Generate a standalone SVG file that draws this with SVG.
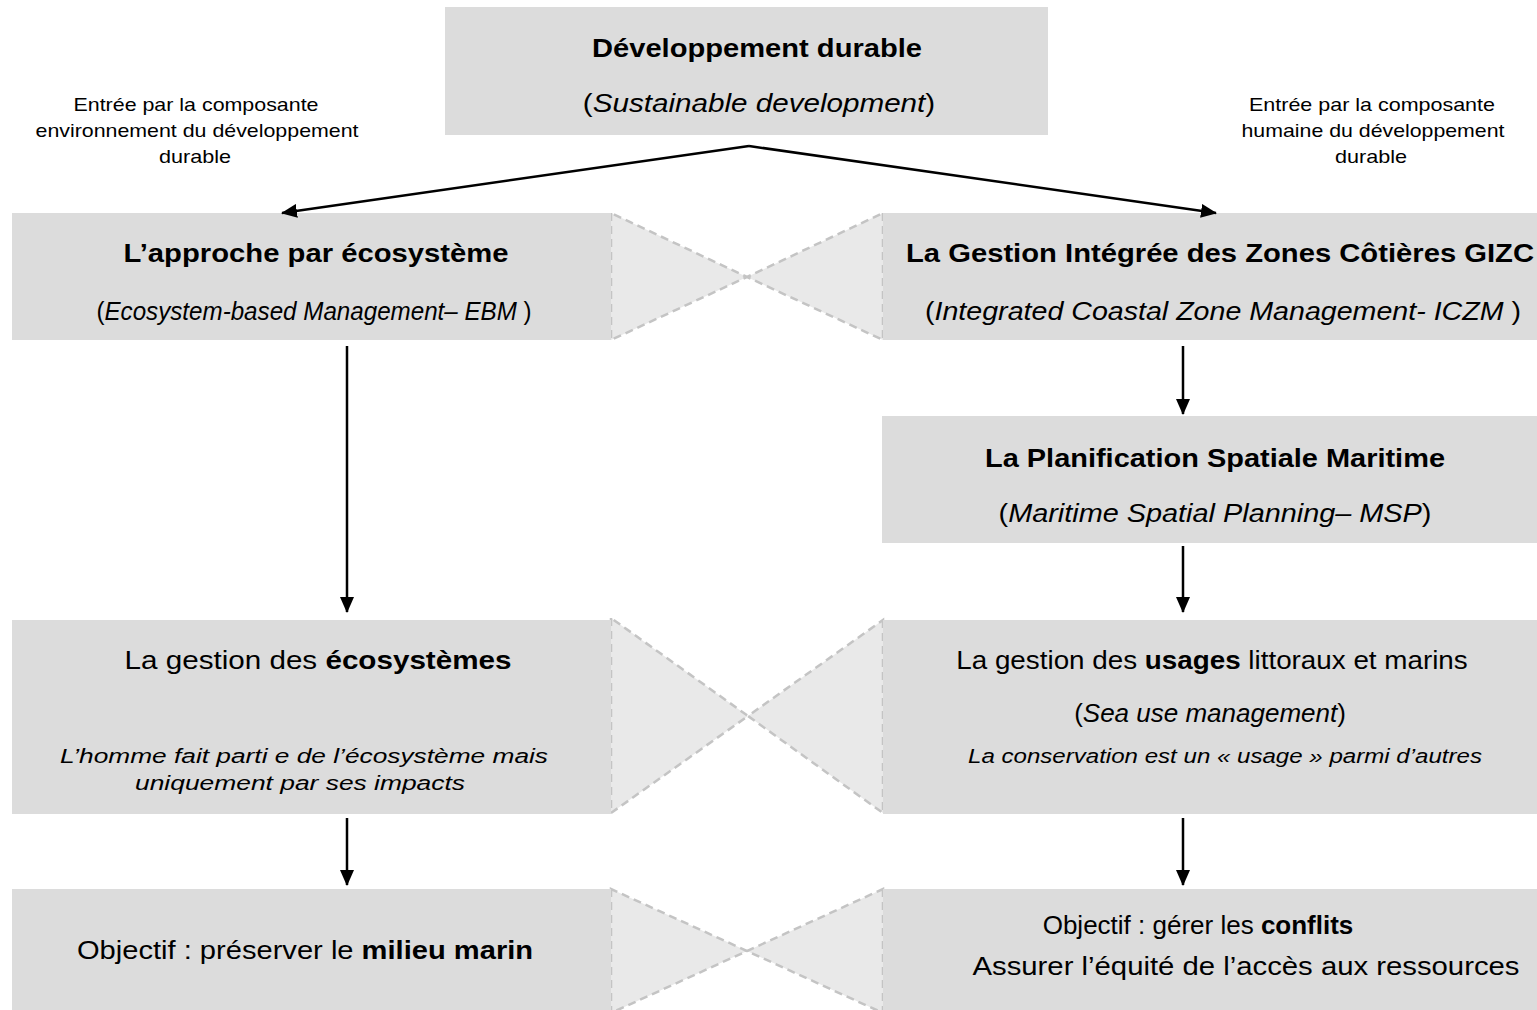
<svg xmlns="http://www.w3.org/2000/svg" width="1537" height="1010" viewBox="0 0 1537 1010">
<defs>
<marker id="ah" viewBox="0 0 16 14" refX="15" refY="7" markerWidth="16" markerHeight="14" orient="auto" markerUnits="userSpaceOnUse">
<path d="M0,0 L16,7 L0,14 z" fill="#000"/>
</marker>
<style>
.box{fill:#dcdcdc;}
.bow{fill:#e9e9e9;stroke:#c4c4c4;stroke-width:2.5;stroke-dasharray:8,5;}
.t{font-family:"Liberation Sans",Arial,sans-serif;fill:#000;text-anchor:middle;}
.b{font-weight:bold;}
.i{font-style:italic;}
.big{font-size:25px;}
.h{font-size:26px;}
.it{font-size:20px;}
.sm{font-size:18.5px;}
.c{stroke:#000;stroke-width:2.5;fill:none;}
</style>
</defs>
<rect width="1537" height="1010" fill="#fff"/>

<g id="bowties">
<polygon class="bow" points="611,213 611,340 747,277"/>
<polygon class="bow" points="883,213 883,340 747,277"/>
<polygon class="bow" points="611,618 611,813 748,716"/>
<polygon class="bow" points="883,620 883,813 748,716"/>
<polygon class="bow" points="611,889 611,1013 747,951"/>
<polygon class="bow" points="883,889 883,1013 747,951"/>
</g>

<g id="n-dd">
<rect class="box" x="445" y="7" width="603" height="128"/>
<text class="t b big" x="757" y="57" textLength="330" lengthAdjust="spacingAndGlyphs">Développement durable</text>
<text class="t big" transform="translate(759,112) scale(1.185,1)">(<tspan class="i">Sustainable development</tspan>)</text>
</g>

<g id="n-note-left">
<text class="t sm" x="196" y="111" textLength="245" lengthAdjust="spacingAndGlyphs">Entrée par la composante</text>
<text class="t sm" x="197" y="137" textLength="323" lengthAdjust="spacingAndGlyphs">environnement du développement</text>
<text class="t sm" x="195" y="163" textLength="72" lengthAdjust="spacingAndGlyphs">durable</text>
</g>

<g id="n-note-right">
<text class="t sm" x="1372" y="111" textLength="246" lengthAdjust="spacingAndGlyphs">Entrée par la composante</text>
<text class="t sm" x="1373" y="137" textLength="263" lengthAdjust="spacingAndGlyphs">humaine du développement</text>
<text class="t sm" x="1371" y="163" textLength="72" lengthAdjust="spacingAndGlyphs">durable</text>
</g>

<g id="n-ebm">
<rect class="box" x="12" y="213" width="599" height="127"/>
<text class="t b h" x="316" y="262" textLength="385" lengthAdjust="spacingAndGlyphs">L’approche par écosystème</text>
<text class="t h" transform="translate(314,320) scale(0.93,1)">(<tspan class="i">Ecosystem-based Management– EBM</tspan> )</text>
</g>

<g id="n-gizc">
<rect class="box" x="883" y="213" width="654" height="127"/>
<text class="t b h" x="1220" y="262" textLength="628" lengthAdjust="spacingAndGlyphs">La Gestion Intégrée des Zones Côtières GIZC</text>
<text class="t h" transform="translate(1223,320) scale(1.1,1)">(<tspan class="i">Integrated Coastal Zone Management- ICZM</tspan> )</text>
</g>

<g id="n-msp">
<rect class="box" x="882" y="416" width="655" height="127"/>
<text class="t b h" x="1215" y="467" textLength="460" lengthAdjust="spacingAndGlyphs">La Planification Spatiale Maritime</text>
<text class="t h" transform="translate(1215,522) scale(1.11,1)">(<tspan class="i">Maritime Spatial Planning– MSP</tspan>)</text>
</g>

<g id="n-eco">
<rect class="box" x="12" y="620" width="599" height="194"/>
<text class="t h" transform="translate(318,669) scale(1.14,1)">La gestion des <tspan class="b">écosystèmes</tspan></text>
<text class="t it i" x="304" y="763" textLength="488" lengthAdjust="spacingAndGlyphs">L’homme fait parti e de l’écosystème mais</text>
<text class="t it i" x="300" y="790" textLength="330" lengthAdjust="spacingAndGlyphs">uniquement par ses impacts</text>
</g>

<g id="n-usages">
<rect class="box" x="883" y="620" width="654" height="194"/>
<text class="t h" transform="translate(1212,669) scale(1.07,1)">La gestion des <tspan class="b">usages</tspan> littoraux et marins</text>
<text class="t h" transform="translate(1210,722)">(<tspan class="i">Sea use management</tspan>)</text>
<text class="t it i" x="1225" y="763" textLength="514" lengthAdjust="spacingAndGlyphs">La conservation est un « usage » parmi d’autres</text>
</g>

<g id="n-obj-left">
<rect class="box" x="12" y="889" width="599" height="124"/>
<text class="t h" transform="translate(305,959) scale(1.12,1)">Objectif : préserver le <tspan class="b">milieu marin</tspan></text>
</g>

<g id="n-obj-right">
<rect class="box" x="883" y="889" width="654" height="124"/>
<text class="t h" transform="translate(1198,934)">Objectif : gérer les <tspan class="b">conflits</tspan></text>
<text class="t h" x="1246" y="975" textLength="547" lengthAdjust="spacingAndGlyphs">Assurer l’équité de l’accès aux ressources</text>
</g>

<g id="connectors">
<line class="c" x1="749" y1="146" x2="282" y2="213" marker-end="url(#ah)"/>
<line class="c" x1="749" y1="146" x2="1216" y2="213" marker-end="url(#ah)"/>
<line class="c" x1="347" y1="346" x2="347" y2="612" marker-end="url(#ah)"/>
<line class="c" x1="1183" y1="346" x2="1183" y2="414" marker-end="url(#ah)"/>
<line class="c" x1="1183" y1="546" x2="1183" y2="612" marker-end="url(#ah)"/>
<line class="c" x1="347" y1="818" x2="347" y2="885" marker-end="url(#ah)"/>
<line class="c" x1="1183" y1="818" x2="1183" y2="885" marker-end="url(#ah)"/>
</g>
</svg>
